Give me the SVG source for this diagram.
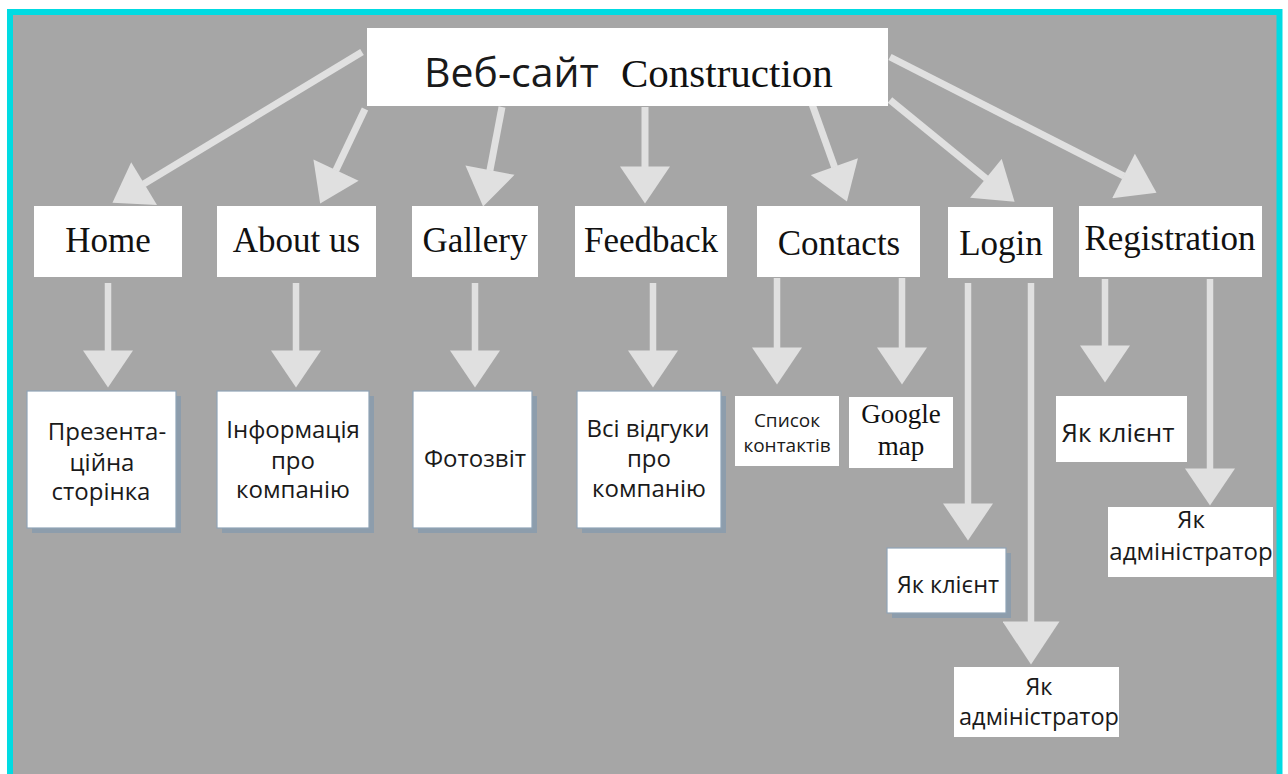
<svg xmlns="http://www.w3.org/2000/svg" width="1288" height="774" viewBox="0 0 1288 774">
  <style>
    .box { fill: #ffffff; }
    .sbox { fill: #ffffff; stroke: #8fa3b6; stroke-width: 1.2; }
    .shadow { fill: #8d9dac; }
    .serif { font-family: "Liberation Serif", "Times New Roman", serif; fill: #111111; }
    .sans { font-family: "Open Sans", "Noto Sans", "DejaVu Sans", sans-serif; fill: #1a1a1a; }
    .l2 { font-size: 35px; text-anchor: middle; }
    .l3 { font-size: 24px; text-anchor: middle; }
    .conn line { stroke: #e0e0e0; stroke-width: 7; fill: none; }
    .conn .v { stroke-width: 6.5; }
  </style>
  <defs>
    <marker id="ah" markerUnits="userSpaceOnUse" markerWidth="38" markerHeight="50" viewBox="0 0 37 50" refX="0.5" refY="25" orient="auto">
      <path d="M0,0 L37,25 L0,50 Z" fill="#e0e0e0"/>
    </marker>
    <marker id="ahL" markerUnits="userSpaceOnUse" markerWidth="44" markerHeight="57" viewBox="0 0 43 57" refX="0.5" refY="28.5" orient="auto">
      <path d="M0,0 L43,28.5 L0,57 Z" fill="#e0e0e0"/>
    </marker>
  </defs>

  <!-- background and frame -->
  <rect x="0" y="0" width="1288" height="774" fill="#ffffff"/>
  <rect x="10" y="12" width="1269.5" height="780" fill="#a6a6a6" stroke="#00dbe2" stroke-width="6"/>

  <!-- connectors -->
  <g id="connectors" class="conn">
    <line x1="362" y1="52" x2="143.7" y2="183.9" marker-end="url(#ah)"/>
    <line x1="365" y1="109" x2="335.8" y2="170.6" marker-end="url(#ah)"/>
    <line x1="502" y1="107" x2="489.9" y2="170.7" marker-end="url(#ah)"/>
    <line x1="645" y1="107" x2="645" y2="167" marker-end="url(#ah)"/>
    <line x1="812" y1="104" x2="834.6" y2="167.1" marker-end="url(#ah)"/>
    <line x1="890" y1="100" x2="986.3" y2="178.6" marker-end="url(#ah)"/>
    <line x1="890" y1="57" x2="1124" y2="176.2" marker-end="url(#ah)"/>

    <line class="v" x1="108" y1="283" x2="108" y2="351" marker-end="url(#ah)"/>
    <line class="v" x1="296" y1="283" x2="296" y2="351" marker-end="url(#ah)"/>
    <line class="v" x1="475" y1="283" x2="475" y2="351" marker-end="url(#ah)"/>
    <line class="v" x1="653" y1="283" x2="653" y2="351" marker-end="url(#ah)"/>
    <line class="v" x1="777" y1="278" x2="777" y2="348" marker-end="url(#ah)"/>
    <line class="v" x1="902" y1="278" x2="902" y2="348" marker-end="url(#ah)"/>
    <line class="v" x1="968" y1="283" x2="968" y2="504" marker-end="url(#ah)"/>
    <line class="v" x1="1031" y1="283" x2="1031" y2="622" marker-end="url(#ahL)"/>
    <line class="v" x1="1105" y1="279" x2="1105" y2="346" marker-end="url(#ah)"/>
    <line class="v" x1="1210" y1="279" x2="1210" y2="469" marker-end="url(#ah)"/>
  </g>

  <!-- root -->
  <g id="root">
    <rect class="box" x="367" y="28" width="521" height="78"/>
    <text x="424" y="87" class="sans" font-size="41">Веб-сайт</text>
    <text x="621" y="87" class="serif" font-size="41">Construction</text>
  </g>

  <!-- level 2 -->
  <g id="home">
    <rect class="box" x="34" y="206" width="148" height="71"/>
    <text x="108" y="252" class="serif l2">Home</text>
  </g>
  <g id="about">
    <rect class="box" x="217" y="206" width="159" height="71"/>
    <text x="296.5" y="252" class="serif l2">About us</text>
  </g>
  <g id="gallery">
    <rect class="box" x="412" y="206" width="126" height="71"/>
    <text x="475" y="252" class="serif l2">Gallery</text>
  </g>
  <g id="feedback">
    <rect class="box" x="575" y="206" width="152" height="71"/>
    <text x="651" y="252" class="serif l2">Feedback</text>
  </g>
  <g id="contacts">
    <rect class="box" x="757" y="206" width="163" height="71"/>
    <text x="839" y="255" class="serif l2">Contacts</text>
  </g>
  <g id="login">
    <rect class="box" x="948" y="207" width="105" height="71"/>
    <text x="1001" y="255" class="serif l2">Login</text>
  </g>
  <g id="registration">
    <rect class="box" x="1079" y="206" width="183" height="71"/>
    <text x="1170" y="250" class="serif l2">Registration</text>
  </g>

  <!-- level 3 -->
  <g id="presentation">
    <rect class="shadow" x="32" y="396" width="149" height="137"/>
    <rect class="sbox" x="27" y="391" width="149" height="137"/>
    <text class="sans l3"><tspan x="107" y="440">Презента-</tspan><tspan x="102" y="471">ційна</tspan><tspan x="101" y="500">сторінка</tspan></text>
  </g>
  <g id="info">
    <rect class="shadow" x="222" y="396" width="152" height="137"/>
    <rect class="sbox" x="217" y="391" width="152" height="137"/>
    <text class="sans l3"><tspan x="293" y="438">Інформація</tspan><tspan x="293" y="469">про</tspan><tspan x="293" y="498">компанію</tspan></text>
  </g>
  <g id="photo">
    <rect class="shadow" x="418" y="396" width="119" height="137"/>
    <rect class="sbox" x="413" y="391" width="119" height="137"/>
    <text x="475" y="467" class="sans l3">Фотозвіт</text>
  </g>
  <g id="reviews">
    <rect class="shadow" x="582" y="396" width="144" height="137"/>
    <rect class="sbox" x="577" y="391" width="144" height="137"/>
    <text class="sans l3"><tspan x="648" y="437">Всі відгуки</tspan><tspan x="649" y="467">про</tspan><tspan x="649" y="497">компанію</tspan></text>
  </g>
  <g id="contact-list">
    <rect class="box" x="735" y="396" width="104" height="70"/>
    <text class="sans" font-size="19" text-anchor="middle"><tspan x="787" y="427">Список</tspan><tspan x="787" y="452">контактів</tspan></text>
  </g>
  <g id="google-map">
    <rect class="box" x="849" y="397" width="104" height="71"/>
    <text class="serif" font-size="27" text-anchor="middle"><tspan x="901" y="423">Google</tspan><tspan x="901" y="455">map</tspan></text>
  </g>
  <g id="reg-client">
    <rect class="box" x="1056" y="396" width="131" height="66"/>
    <text x="1118" y="442" class="sans" font-size="26" text-anchor="middle">Як клієнт</text>
  </g>
  <g id="reg-admin">
    <rect class="box" x="1108" y="507" width="165" height="70"/>
    <text class="sans" font-size="24" text-anchor="middle"><tspan x="1191" y="528">Як</tspan><tspan x="1191" y="560">адміністратор</tspan></text>
  </g>
  <g id="login-client">
    <rect class="shadow" x="892" y="553" width="119" height="65"/>
    <rect class="sbox" x="887" y="548" width="119" height="65"/>
    <text x="948" y="593" class="sans" font-size="23.5" text-anchor="middle">Як клієнт</text>
  </g>
  <g id="login-admin">
    <rect class="box" x="954" y="667" width="165" height="70"/>
    <text class="sans" font-size="23.5" text-anchor="middle"><tspan x="1039" y="695">Як</tspan><tspan x="1039" y="725">адміністратор</tspan></text>
  </g>
</svg>
